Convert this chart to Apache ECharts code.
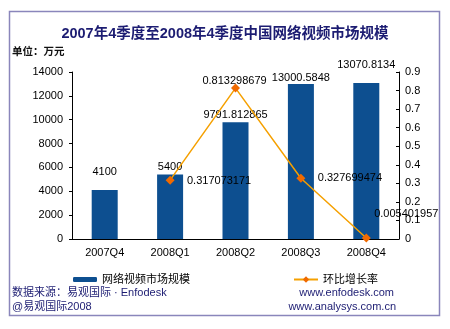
<!DOCTYPE html>
<html><head><meta charset="utf-8">
<script src="https://cdn.jsdelivr.net/npm/echarts@6/dist/echarts.min.js"></script>
<style>html,body{margin:0;padding:0;background:#fff}#c{width:450px;height:329px}</style>
</head><body><div id="c"></div>
<script>
const categories = ['2007Q4','2008Q1','2008Q2','2008Q3','2008Q4'];
const marketSize = [4100, 5400, 9791.812865, 13000.5848, 13070.8134];
const marketLabels = ['4100','5400','9791.812865','13000.5848','13070.8134'];
const growthRate = [null, 0.317073171, 0.813298679, 0.327699474, 0.005401957];
const growthLabels = ['', '0.317073171', '0.813298679', '0.327699474', '0.005401957'];
const leftTicks = [0, 2000, 4000, 6000, 8000, 10000, 12000, 14000];
const rightTicks = [0, 0.1, 0.2, 0.3, 0.4, 0.5, 0.6, 0.7, 0.8, 0.9];

const barLabelDist = [13, 2, 1.5, 0.5, 13];
const lineLabelOffset = [[0,0],[49,1],[-1,-7],[49,0],[40,-24]];
const FONT = '"Liberation Sans", Arial, "Noto Sans CJK SC", sans-serif';

const chart = echarts.init(document.getElementById('c'), null, {renderer:'canvas'});
chart.setOption({
  animation: false,
  textStyle: {fontFamily: FONT},
  title: {
    text: '2007年4季度至2008年4季度中国网络视频市场规模',
    left: 'center', top: 22,
    textStyle: {fontSize: 14.5, fontWeight: 'bold', color: '#1c1c72', fontFamily: FONT}
  },
  graphic: [
    {type:'rect', shape:{x:9.5, y:11.5, width:430, height:304}, style:{fill:'none', stroke:'#8a86bb', lineWidth:1.5}, silent:true},
    {type:'text', left:12, top:47, style:{text:'单位：万元', fontSize:10.5, fontWeight:'bold', fill:'#111', fontFamily:FONT}},
    {type:'text', left:12, top:287, style:{text:'数据来源：易观国际 · Enfodesk', fontSize:11, fill:'#1c1c72', fontFamily:FONT}},
    {type:'text', left:12, top:301, style:{text:'@易观国际2008', fontSize:11, fill:'#1c1c72', fontFamily:FONT}},
    {type:'text', right:56, top:287, style:{text:'www.enfodesk.com', fontSize:11, fill:'#1c1c72', fontFamily:FONT}},
    {type:'text', right:54, top:301, style:{text:'www.analysys.com.cn', fontSize:11, fill:'#1c1c72', fontFamily:FONT}}
  ],
  legend: [
    {data:['网络视频市场规模'], left:68, top:269, itemWidth:24, itemHeight:5, itemGap:4,
     textStyle:{fontSize:11, color:'#000', fontFamily:FONT}},
    {data:['环比增长率'], left:288, top:269, itemWidth:24, itemHeight:8, itemGap:3,
     textStyle:{fontSize:11, color:'#000', fontFamily:FONT}}
  ],
  grid: {left:72, right:51, top:72, bottom:90, containLabel:false},
  xAxis: {
    type:'category', data: categories,
    axisLine:{lineStyle:{color:'#000', width:1}},
    axisTick:{show:false},
    axisLabel:{color:'#000', fontSize:11, margin:8, fontFamily:FONT}
  },
  yAxis: [
    {type:'value', min:leftTicks[0], max:leftTicks[leftTicks.length-1], interval:2000,
     axisLine:{show:true, lineStyle:{color:'#000'}},
     axisTick:{show:true, length:3, lineStyle:{color:'#000'}},
     splitLine:{show:false},
     axisLabel:{color:'#000', fontSize:11, margin:9, fontFamily:FONT, formatter: v => String(v)}},
    {type:'value', min:rightTicks[0], max:rightTicks[rightTicks.length-1], interval:0.1,
     position:'right',
     axisLine:{show:true, lineStyle:{color:'#000'}},
     axisTick:{show:true, inside:true, length:3, lineStyle:{color:'#000'}},
     splitLine:{show:false},
     axisLabel:{color:'#000', fontSize:11, margin:6, fontFamily:FONT,
       formatter: v => String(Math.round(v*10)/10)}}
  ],
  series: [
    {name:'网络视频市场规模', type:'bar', yAxisIndex:0, barWidth:26,
     itemStyle:{color:'#0d4f90'},
     data: marketSize.map((v,i)=>({value:v, label:{show:true, position:'top', distance:barLabelDist[i],
        formatter: marketLabels[i], color:'#000', fontSize:11, fontFamily:FONT}}))},
    {name:'环比增长率', type:'line', yAxisIndex:1,
     lineStyle:{color:'#f5a000', width:1.5},
     itemStyle:{color:'#f06a00'},
     symbol:'diamond', symbolSize:9, showSymbol:true,
     data: growthRate.map((v,i)=>({value:v, label:{show: v!==null, position:'inside', offset:lineLabelOffset[i],
        formatter: growthLabels[i], color:'#000', fontSize:11, fontFamily:FONT}}))}
  ]
});
</script></body></html>
